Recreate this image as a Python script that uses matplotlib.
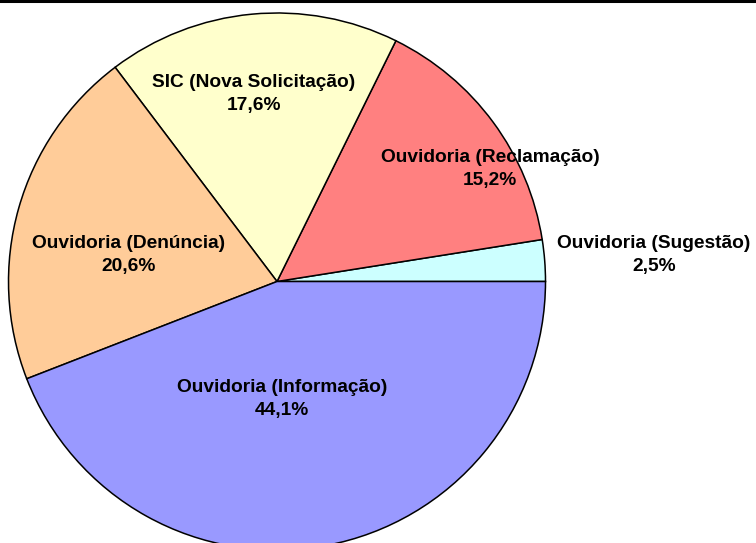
import matplotlib
matplotlib.use("Agg")
import matplotlib.pyplot as plt
from matplotlib.lines import Line2D

categories = ["Ouvidoria (Sugestão)", "Ouvidoria (Reclamação)", "SIC (Nova Solicitação)",
              "Ouvidoria (Denúncia)", "Ouvidoria (Informação)"]
values = [2.5, 15.2, 17.6, 20.6, 44.1]
value_labels = ["2,5%", "15,2%", "17,6%", "20,6%", "44,1%"]
colors = ["#CCFFFF", "#FF8080", "#FFFFCC", "#FFCC99", "#9999FF"]
# label centres in pixel coordinates (x from left, y from top)
label_pos = [(654, 255), (490, 169), (254, 94), (129, 255), (282, 399)]

W, H = 756, 543
fig = plt.figure(figsize=(W / 100, H / 100), dpi=100)
ax = fig.add_axes([0, 0, 1, 1])

cx, cy, r = 277, H - 281.5, 268.5
ax.pie(values, colors=colors, startangle=0, counterclock=True,
       center=(cx, cy), radius=r, frame=True,
       wedgeprops=dict(edgecolor="black", linewidth=1.1))
ax.set_xlim(0, W)
ax.set_ylim(0, H)
ax.set_aspect("equal")
ax.axis("off")

for cat, vl, (px, py) in zip(categories, value_labels, label_pos):
    ax.text(px, H - py, f"{cat}\n{vl}", ha="center", va="center",
            fontsize=13.8, fontweight="bold", family=["Liberation Sans", "DejaVu Sans"],
            linespacing=1.45, color="black")

fig.add_artist(Line2D([0, 1], [1 - 1.2 / H, 1 - 1.2 / H], transform=fig.transFigure,
                      color="black", linewidth=2.2))

fig.savefig("out.png", dpi=100)
